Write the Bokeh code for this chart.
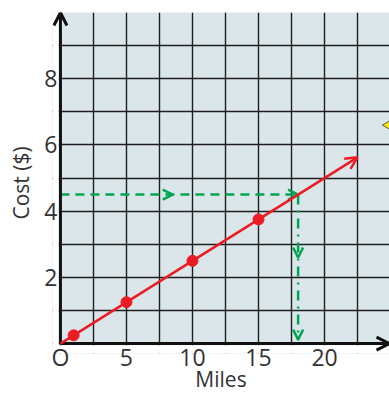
from math import pi
from bokeh.plotting import figure
from bokeh.models import FixedTicker, Arrow, OpenHead, Range1d, BoxAnnotation
from bokeh.embed import file_html
from bokeh.resources import INLINE

# data
miles = [1, 5, 10, 15]
cost = [0.25, 1.25, 2.5, 3.75]
line_end_miles = 22.5
line_end_cost = 5.625
read_cost = 4.5
read_miles = 18
mid_arrow_miles = 8.5
mid_arrow_cost = 2.6
x_ticks = [0, 5, 10, 15, 20]
x_tick_labels = {0: "O"}
y_ticks = [2, 4, 6, 8]
x_grid = [i * 2.5 for i in range(11)]
y_grid = list(range(11))
x_min, x_max = -0.6, 24.92
y_min, y_max = -0.3, 10
marker_pos = (25.0, 6.6)

FONT = "Open Sans"
RED = "#ec1c24"
GREEN = "#00a651"
DARK = "#111111"

p = figure(width=389, height=395, output_backend="svg", toolbar_location=None,
           x_range=Range1d(x_min, x_max), y_range=Range1d(y_min, y_max),
           min_border_left=52, min_border_right=0, min_border_top=12, min_border_bottom=42)
p.background_fill_color = "#dae6ea"
p.border_fill_color = "white"
p.outline_line_color = None

p.xgrid.ticker = FixedTicker(ticks=x_grid)
p.ygrid.ticker = FixedTicker(ticks=y_grid)
for g in (p.xgrid, p.ygrid):
    g.grid_line_color = "#1e1e1e"
    g.grid_line_width = 1.4
    g.grid_line_alpha = 1.0

for ax, ticks in ((p.xaxis, x_ticks), (p.yaxis, y_ticks)):
    ax.ticker = FixedTicker(ticks=ticks)
    ax.level = "overlay"
    ax.axis_line_color = None
    ax.major_tick_line_color = None
    ax.minor_tick_line_color = None
    ax.major_tick_out = 0
    ax.major_tick_in = 0
    ax.minor_tick_out = 0
    ax.minor_tick_in = 0
    ax.major_label_text_font = FONT
    ax.major_label_text_font_size = "23px"
    ax.major_label_text_color = "#333333"
    ax.axis_label_text_font = FONT
    ax.axis_label_text_font_style = "normal"
    ax.axis_label_text_color = "#333333"
    ax.axis_label_text_font_size = "21px"
p.xaxis.major_label_overrides = x_tick_labels
p.xaxis.major_label_standoff = -13
p.yaxis.major_label_standoff = -5
p.yaxis.major_label_orientation = "horizontal"
p.xaxis.axis_label = "Miles"
p.yaxis.axis_label = "Cost ($)"
p.xaxis.axis_label_standoff = -11
p.yaxis.axis_label_standoff = 6

# white margins outside the axes (inside the frame)
p.add_layout(BoxAnnotation(right=-0.12, fill_color="white", fill_alpha=1, line_alpha=0))
p.add_layout(BoxAnnotation(top=-0.05, fill_color="white", fill_alpha=1, line_alpha=0))

# yellow marker at the edge
p.scatter([marker_pos[0]], [marker_pos[1]], marker="triangle", size=14, angle=pi / 2,
          fill_color="#ffec00", line_color="#333333", line_width=0.8)

# axes with arrows
p.add_layout(Arrow(x_start=0, y_start=0, x_end=0, y_end=y_max, line_width=3, line_color=DARK,
                   end=OpenHead(size=13, line_width=3, line_color=DARK)))
p.add_layout(Arrow(x_start=0, y_start=0, x_end=x_max, y_end=0, line_width=3, line_color=DARK,
                   end=OpenHead(size=13, line_width=3, line_color=DARK)))

# green reading lines
p.line([0, read_miles], [read_cost, read_cost], line_color=GREEN, line_width=2.5, line_dash="9 6")
p.add_layout(Arrow(x_start=mid_arrow_miles - 0.5, y_start=read_cost, x_end=mid_arrow_miles, y_end=read_cost,
                   line_alpha=0, end=OpenHead(size=10, line_width=2.5, line_color=GREEN)))
p.add_layout(Arrow(x_start=read_miles - 0.5, y_start=read_cost, x_end=read_miles, y_end=read_cost,
                   line_alpha=0, end=OpenHead(size=10, line_width=2.5, line_color=GREEN)))
p.line([read_miles, read_miles], [read_cost, 0.1], line_color=GREEN, line_width=2.5, line_dash="10 6 2 6")
p.add_layout(Arrow(x_start=read_miles, y_start=mid_arrow_cost + 0.3, x_end=read_miles, y_end=mid_arrow_cost,
                   line_alpha=0, end=OpenHead(size=10, line_width=2.5, line_color=GREEN)))
p.add_layout(Arrow(x_start=read_miles, y_start=0.4, x_end=read_miles, y_end=0.12,
                   line_alpha=0, end=OpenHead(size=10, line_width=2.5, line_color=GREEN)))

# red line
p.add_layout(Arrow(x_start=0, y_start=0, x_end=line_end_miles, y_end=line_end_cost,
                   line_width=2.5, line_color=RED,
                   end=OpenHead(size=12, line_width=2.5, line_color=RED)))
p.scatter(miles, cost, size=11, fill_color=RED, line_color=RED)

open("out.html", "w").write(file_html(p, INLINE))
